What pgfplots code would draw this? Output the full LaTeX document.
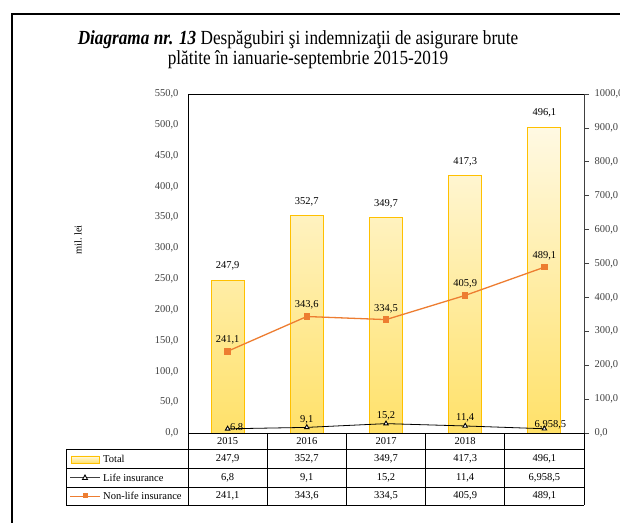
\documentclass[border=0pt]{standalone}
\usepackage{fontspec}
\setmainfont{Liberation Serif}
\newfontfamily\titlefont{Liberation Serif}[FakeStretch=0.86]
\usepackage{pgfplots}
\usepackage{pgfplotstable}
\pgfplotsset{compat=1.18}

\definecolor{barEdge}{HTML}{FFC000}
\definecolor{barTop}{HTML}{FFF9E3}
\definecolor{barBot}{HTML}{FFE169}
\definecolor{nonlife}{HTML}{ED7D31}
\definecolor{gridc}{HTML}{BFBFBF}
\definecolor{tickc}{HTML}{404040}

\newcommand\sz{\fontsize{10.5bp}{12bp}\selectfont}

% x = category (0 = 2015 ... 4 = 2019)
\pgfplotstableread{
x total
0 247.9
1 352.7
2 349.7
3 417.3
4 496.1
}\totaldata

\pgfplotstableread{
x y label dx dy
0 6.8 6.8 9 -6
1 9.1 9,1 0 0
2 15.2 15,2 0 0
3 11.4 11,4 0 0
4 6.9 6,958,5 6 -4
}\lifedata

\pgfplotstableread{
x y
0 241.1
1 343.6
2 334.5
3 405.9
4 489.1
}\nonlifedata

\pgfplotsset{
  base/.style={
    scale only axis,
    width=396bp, height=339bp,
    at={(188bp,90bp)}, anchor=south west,
    xmin=-0.5, xmax=4.5,
    xtick=\empty,
    /pgf/number format/assume math mode=true,
    /pgf/number format/fixed,
    /pgf/number format/fixed zerofill,
    /pgf/number format/precision=1,
    /pgf/number format/use comma,
    /pgf/number format/1000 sep={},
    ticklabel style={font=\sz, text=tickc},
  }
}

\begin{document}
\begin{tikzpicture}

% main axis: bars and life insurance
\begin{axis}[base,
  ymin=0, ymax=550, ytick distance=50,
  ytick pos=left,
  major tick length=0pt, minor tick length=0pt,
  minor xtick={0.5,1.5,2.5,3.5},
  xminorgrids,
  minor grid style={gridc, line width=0.7pt},
  axis line style={black, line width=1pt},
  yticklabel style={xshift=-6bp},
]
\addplot[ybar, bar shift=0pt, bar width=33bp, draw=barEdge, line width=1pt,
  top color=barTop, bottom color=barBot,
  nodes near coords={\pgfmathprintnumber{\pgfplotspointmeta}},
  nodes near coords style={font=\sz, text=black, yshift=6bp}]
  table[x=x, y=total]{\totaldata};

\addplot[black, line width=0.8pt, mark=triangle*, mark size=2.6bp,
  mark options={fill=white, draw=black, line width=0.9pt},
  point meta=explicit symbolic,
  visualization depends on={\thisrow{dx} \as \dx},
  visualization depends on={\thisrow{dy} \as \dy},
  nodes near coords,
  nodes near coords style={font=\sz, text=black, anchor=south, xshift=\dx bp, yshift=\dy bp}]
  table[x=x, y=y, meta=label]{\lifedata};
\end{axis}

% secondary axis: non-life insurance
\begin{axis}[base,
  ymin=0, ymax=1000, ytick distance=100,
  axis y line*=right, axis x line=none,
  tick align=outside, major tick length=5bp,
  tick style={tickc, line width=0.6pt},
  axis line style={tickc, line width=1pt},
  yticklabel style={xshift=2bp},
]
\addplot[nonlife, line width=1.3pt, mark=square*, mark size=2.6bp,
  mark options={fill=nonlife},
  nodes near coords={\pgfmathprintnumber{\pgfplotspointmeta}},
  nodes near coords style={font=\sz, text=black, anchor=south, yshift=3bp}]
  table[x=x, y=y]{\nonlifedata};
\end{axis}

% data table under the chart
\begin{scope}[line width=0.9bp, black]
  \foreach \yy in {74,55,36,18} \draw (66bp,\yy bp) -- (584bp,\yy bp);
  \draw (66bp,74bp) -- (66bp,18bp);
  \foreach \xx in {188,267.2,346.4,425.6,504.8,584} \draw (\xx bp,90bp) -- (\xx bp,18bp);
\end{scope}

\foreach \xx/\t in {227.6/2015,306.8/2016,386/2017,465.2/2018}
  \node[font=\sz] at (\xx bp,82bp) {\t};
\foreach \xx/\t in {227.6/{247,9},306.8/{352,7},386/{349,7},465.2/{417,3},544.4/{496,1}}
  \node[font=\sz] at (\xx bp,64.5bp) {\t};
\foreach \xx/\t in {227.6/{6,8},306.8/{9,1},386/{15,2},465.2/{11,4},544.4/{6,958,5}}
  \node[font=\sz] at (\xx bp,45.5bp) {\t};
\foreach \xx/\t in {227.6/{241,1},306.8/{343,6},386/{334,5},465.2/{405,9},544.4/{489,1}}
  \node[font=\sz] at (\xx bp,27bp) {\t};

% legend keys inside the table
\draw[barEdge, line width=1pt, top color=barTop, bottom color=barBot] (71bp,60bp) rectangle (99bp,67bp);
\node[font=\sz, anchor=west, inner sep=0pt] at (103bp,64.5bp) {Total};
\draw[black!75, line width=0.7pt] (70bp,45.5bp) -- (100bp,45.5bp);
\draw[black, fill=white, line width=0.9pt] (82.5bp,43.5bp) -- (87.5bp,43.5bp) -- (85bp,48bp) -- cycle;
\node[font=\sz, anchor=west, inner sep=0pt] at (103bp,45.5bp) {Life insurance};
\draw[nonlife, line width=1pt] (70bp,27bp) -- (100bp,27bp);
\fill[nonlife] (82.5bp,24.5bp) rectangle (87.5bp,29.5bp);
\node[font=\sz, anchor=west, inner sep=0pt] at (103bp,27bp) {Non-life insurance};

% title and y label
\node[font=\titlefont\fontsize{20bp}{22bp}\selectfont, anchor=base] at (298bp,478bp)
  {\textbf{\textit{Diagrama nr. 13}} Despăgubiri şi indemnizaţii de asigurare brute};
\node[font=\titlefont\fontsize{20bp}{22bp}\selectfont, anchor=base] at (308bp,458bp)
  {plătite în ianuarie-septembrie 2015-2019};
\node[font=\sz, rotate=90] at (78bp,283bp) {mil.\ lei};

% outer frame
\draw[black, line width=1.2bp] (12bp,-5bp) -- (12bp,509bp) -- (630bp,509bp);

\pgfresetboundingbox
\path[use as bounding box] (0,0) rectangle (620bp,523bp);
\end{tikzpicture}
\end{document}
